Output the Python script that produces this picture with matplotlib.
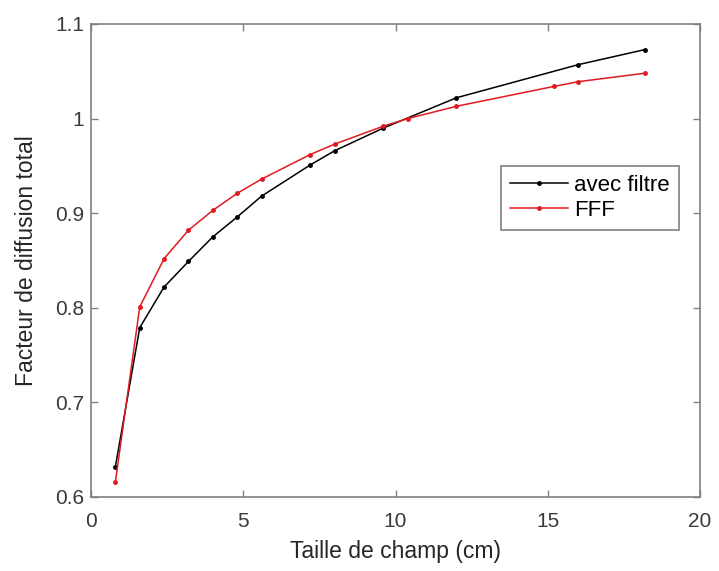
import matplotlib
matplotlib.use('Agg')
import matplotlib.pyplot as plt

plt.rcParams['font.family'] = ['Liberation Sans', 'DejaVu Sans']

# Données
taille_avec_filtre = [0.8, 1.6, 2.4, 3.2, 4.0, 4.8, 5.6, 7.2, 8.0, 9.6, 12.0, 16.0, 18.2]
fdt_avec_filtre = [0.632, 0.779, 0.822, 0.849, 0.875, 0.896, 0.918, 0.951, 0.966, 0.990, 1.022, 1.057, 1.073]

taille_fff = [0.8, 1.6, 2.4, 3.2, 4.0, 4.8, 5.6, 7.2, 8.0, 9.6, 10.4, 12.0, 15.2, 16.0, 18.2]
fdt_fff = [0.616, 0.801, 0.852, 0.882, 0.903, 0.921, 0.936, 0.962, 0.973, 0.992, 1.000, 1.013, 1.034, 1.039, 1.048]

gris = '#808080'

fig = plt.figure(figsize=(7.19, 5.71), dpi=100)
ax = fig.add_axes([0.1266, 0.1296, 0.847, 0.8284])

ax.plot(taille_avec_filtre, fdt_avec_filtre, color='black', marker='.', markersize=5, linewidth=1.1,
        label='avec filtre')
ax.plot(taille_fff, fdt_fff, color='#e01a22', marker='.', markersize=5, linewidth=1.1, label='FFF')

ax.set_xlim(0, 20)
ax.set_ylim(0.6, 1.1)
ax.set_xticks([0, 5, 10, 15, 20])
ax.set_yticks([0.6, 0.7, 0.8, 0.9, 1.0, 1.1])
ax.set_yticklabels(['0.6', '0.7', '0.8', '0.9', '1', '1.1'])

ax.tick_params(direction='in', length=5, width=1, colors=gris, labelcolor='#3a3a3a',
               labelsize=15, top=True, right=True)
ax.tick_params(axis='x', pad=11)
ax.tick_params(axis='y', pad=5)
for s in ax.spines.values():
    s.set_color(gris)
    s.set_linewidth(1.2)

ax.set_xlabel('Taille de champ (cm)', fontsize=16.5, color='#262626', labelpad=6)
ax.set_ylabel('Facteur de diffusion total', fontsize=16.5, color='#262626', labelpad=12)

leg = ax.legend(loc='upper right', bbox_to_anchor=(0.9655, 0.70), borderaxespad=0, fontsize=16,
                fancybox=False, edgecolor=gris, framealpha=1, handlelength=2.6,
                handletextpad=0.3, labelspacing=0.2, borderpad=0.4)
leg.get_frame().set_linewidth(1.2)

fig.savefig('out.png', dpi=100)
